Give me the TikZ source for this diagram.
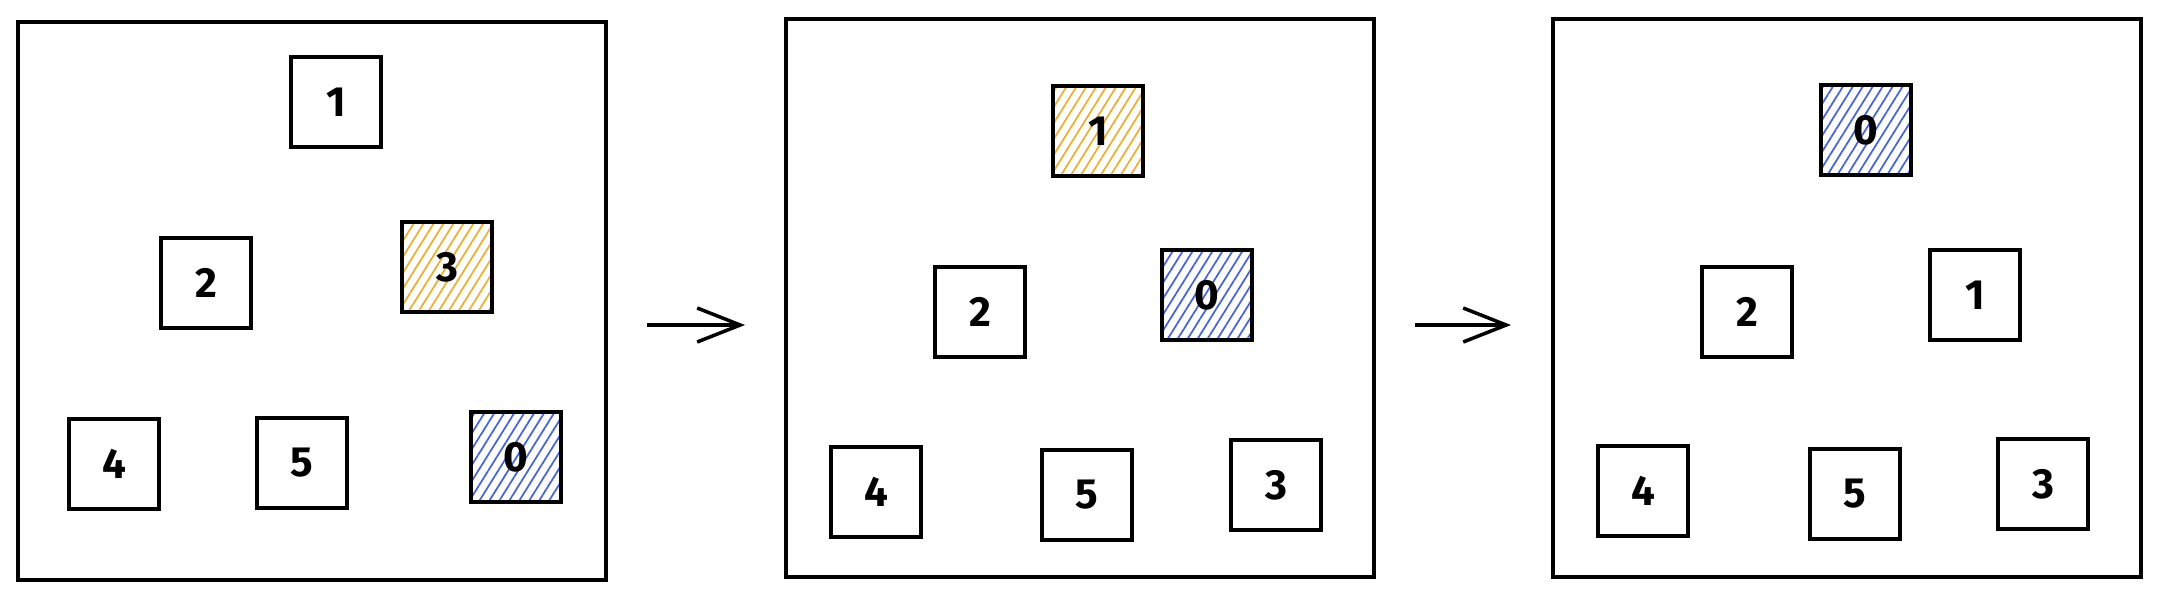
\documentclass[tikz,border=0pt]{standalone}
\usepackage{fontspec}
\setmainfont{Fira Sans}
\usetikzlibrary{arrows.meta,patterns.meta}
\definecolor{hatchO}{RGB}{236,176,48}
\definecolor{hatchB}{RGB}{70,100,220}

\begin{document}
\begin{tikzpicture}[x=0.01cm,y=-0.01cm,panel/.style={shape=rectangle,draw=black,line width=1.2pt,minimum width=5.87cm,minimum height=5.58cm},cell/.style={shape=rectangle,draw=black,line width=1.2pt,minimum size=0.9cm,inner sep=0pt,font=\fontsize{12}{14}\selectfont\bfseries},cellO/.style={cell,pattern={Lines[angle=58,distance=2.4pt,line width=0.5pt]},pattern color=hatchO},cellB/.style={cell,pattern={Lines[angle=58,distance=2.4pt,line width=0.5pt]},pattern color=hatchB},movearrow/.style={line width=1pt,-{Straight Barb[length=4.3mm,width=3.4mm]}}]
\useasboundingbox (0,0) rectangle (2159,599);

\node[panel] (FA) at (312,301) {};
\node[panel] (FB) at (1080,298) {};
\node[panel] (FC) at (1847,298) {};

% before the swap
\node[cell] (A1) at (336,102) {1};
\node[cell] (A2) at (206,283) {2};
\node[cellO] (A3) at (447,267) {3};
\node[cell] (A4) at (114,464) {4};
\node[cell] (A5) at (302,463) {5};
\node[cellB] (A0) at (516,457) {0};

\coordinate (P1) at (647,325);
\coordinate (Q1) at (745,325);
\draw[movearrow] (P1) -- (Q1);

% after 0 and 3
\node[cellO] (B1) at (1098,131) {1};
\node[cell] (B2) at (980,312) {2};
\node[cellB] (B0) at (1207,295) {0};
\node[cell] (B4) at (876,492) {4};
\node[cell] (B5) at (1087,495) {5};
\node[cell] (B3) at (1276,485) {3};

\coordinate (P2) at (1415,325);
\coordinate (Q2) at (1511,325);
\draw[movearrow] (P2) -- (Q2);

% after 0 and 1
\node[cellB] (C0) at (1866,130) {0};
\node[cell] (C2) at (1747,312) {2};
\node[cell] (C1) at (1975,295) {1};
\node[cell] (C4) at (1643,491) {4};
\node[cell] (C5) at (1855,494) {5};
\node[cell] (C3) at (2043,484) {3};
\end{tikzpicture}
\end{document}
